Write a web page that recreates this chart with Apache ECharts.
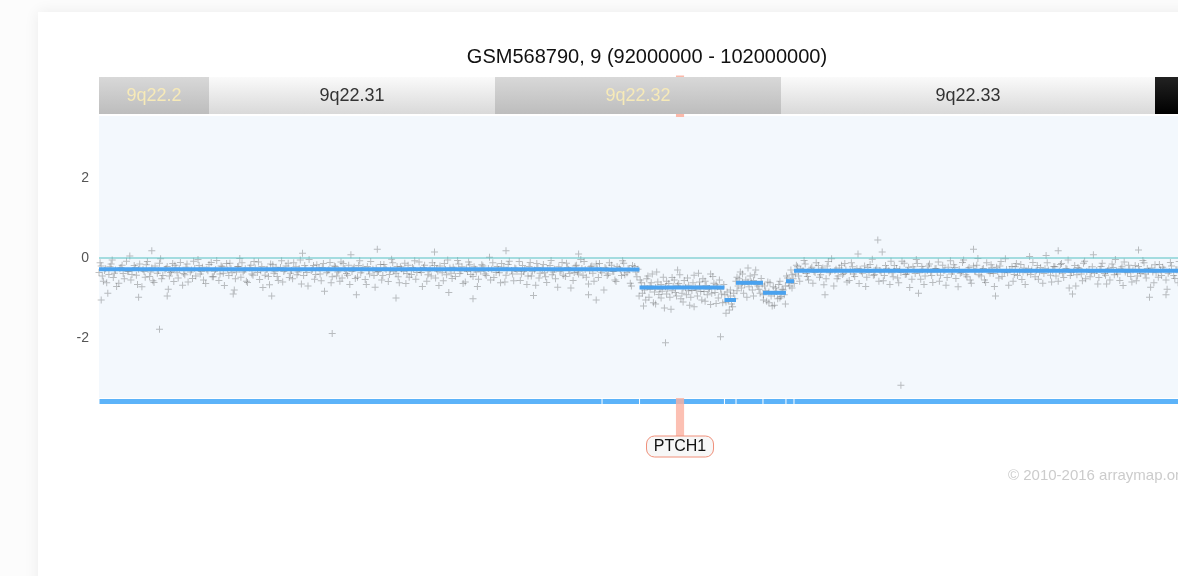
<!DOCTYPE html>
<html><head><meta charset="utf-8">
<script src="https://cdn.jsdelivr.net/npm/echarts@6/dist/echarts.min.js"></script>
<style>html,body{margin:0;padding:0;background:#fcfcfc;overflow:hidden;}#c{width:1200px;height:576px;}</style>
</head><body><div id="c"></div>
<script>
// ---------- data ----------
const titleText = 'GSM568790, 9 (92000000 - 102000000)';
const xMin = 92, xMax = 102;           // Mb
const yMin = -3.5, yMax = 3.55;
const yTickValues = [-2, 0, 2];

const bandNames  = ['9q22.2', '9q22.31', '9q22.32', '9q22.33', '9q31.1'];
const bandStarts = [90.4, 93.0, 95.6, 98.2, 101.6];
const bandEnds   = [93.0, 95.6, 98.2, 101.6, 107.2];
const bandStains = ['gpos', 'gneg', 'gpos', 'gneg', 'gpos100'];

const segStarts = [92.0, 96.573, 96.914, 97.686, 97.791, 98.036, 98.245, 98.318];
const segEnds   = [96.573, 96.914, 97.686, 97.791, 98.036, 98.245, 98.318, 102.0];
const segValues = [-0.28, -0.29, -0.74, -1.05, -0.62, -0.87, -0.58, -0.32];

const geneNames  = ['PTCH1'];
const geneStarts = [97.245];
const geneEnds   = [97.319];

const probesA = [
[92.01,-0.12],[92.03,-0.45],[92.05,-0.31],[92.07,-0.62],[92.10,-0.22],[92.12,-0.05],[92.14,-0.38],[92.16,-0.71],
[92.19,-0.27],[92.21,-0.18],[92.23,-0.52],[92.26,-0.33],[92.28,0.05],[92.30,-0.41],[92.33,-0.24],[92.35,-0.66],
[92.37,-0.15],[92.40,-0.29],[92.42,-0.48],[92.44,-0.09],[92.47,-0.35],[92.49,-0.57],[92.51,-0.20],[92.54,-0.31],
[92.56,-0.02],[92.58,-0.44],[92.61,-0.26],[92.63,-0.78],[92.65,-0.36],[92.67,-0.14],[92.70,-0.25],[92.72,-0.50],
[92.74,-0.11],[92.77,-0.39],[92.79,-0.23],[92.81,-0.60],[92.84,-0.30],[92.86,-0.08],[92.88,-0.45],[92.91,-0.19],
[92.93,-0.34],[92.95,-0.55],[92.98,-0.28],[93.00,-0.16],[93.03,-0.47],[93.05,-0.33],[93.07,-0.06],[93.10,-0.40],
[93.12,-0.22],[93.14,-0.69],[93.17,-0.30],[93.19,-0.13],[93.21,-0.37],[93.24,-0.52],[93.26,-0.21],[93.28,-0.01],
[93.31,-0.35],[93.33,-0.27],[93.35,-0.61],[93.38,-0.18],[93.40,-0.43],[93.42,-0.25],[93.45,-0.10],[93.47,-0.32],
[93.49,-0.74],[93.52,-0.29],[93.54,-0.46],[93.56,-0.15],[93.59,-0.38],[93.61,-0.23],[93.63,-0.56],[93.66,-0.07],
[93.68,-0.34],[93.70,-0.20],[93.73,-0.49],[93.75,-0.31],[93.77,-0.12],[93.80,-0.42],[93.82,-0.26],[93.84,-0.65],
[93.87,-0.19],[93.89,-0.36],[93.91,-0.04],[93.94,-0.28],[93.96,-0.53],[93.98,-0.17],[94.01,-0.40],[94.03,-0.24],
[94.05,-0.83],[94.08,-0.32],[94.10,-0.11],[94.12,-0.47],[94.15,-0.22],[94.17,-0.35],[94.19,-0.58],[94.22,-0.14],
[94.24,-0.30],[94.26,-0.43],[94.29,0.08],[94.31,-0.27],[94.33,-0.51],[94.36,-0.19],[94.38,-0.37],[94.40,-0.23],
[94.43,-0.66],[94.45,-0.31],[94.47,-0.09],[94.50,-0.44],[94.52,-0.25],[94.54,-0.34],[94.57,-0.55],[94.59,-0.16],
[94.61,-0.29],[94.64,-0.41],[94.66,-0.03],[94.68,-0.33],[94.71,-0.21],[94.73,-0.62],[94.75,-0.27],[94.78,-0.13],
[94.80,-0.39],[94.82,-0.48],[94.85,-0.24],[94.87,-0.07],[94.89,-0.36],[94.92,-0.30],[94.94,-0.71],[94.96,-0.18],
[94.99,-0.42],[95.01,-0.26],[95.03,-0.12],[95.06,-0.50],[95.08,-0.33],[95.10,-0.20],[95.13,-0.57],[95.15,-0.29],
[95.17,-0.05],[95.20,-0.38],[95.22,-0.23],[95.24,-0.46],[95.27,-0.15],[95.29,-0.32],[95.31,-0.64],[95.34,-0.27],
[95.36,-0.10],[95.38,-0.41],[95.41,-0.22],[95.43,-0.35],[95.45,-0.53],[95.48,-0.17],[95.50,-0.30],[95.52,-0.44],
[95.55,0.02],[95.57,-0.28],[95.59,-0.49],[95.62,-0.21],[95.64,-0.37],[95.66,-0.14],[95.69,-0.60],[95.71,-0.31],
[95.73,-0.08],[95.76,-0.40],[95.78,-0.25],[95.80,-0.34],[95.83,-0.56],[95.85,-0.19],[95.87,-0.29],[95.90,-0.45],
[95.92,-0.11],[95.94,-0.33],[95.97,-0.68],[95.99,-0.24],[96.01,-0.38],[96.04,-0.16],[96.06,-0.47],[96.08,-0.27],
[96.11,-0.06],[96.13,-0.35],[96.15,-0.52],[96.18,-0.22],[96.20,-0.31],[96.22,-0.43],[96.25,-0.13],[96.27,-0.29],
[96.29,-0.75],[96.32,-0.36],[96.34,-0.18],[96.36,-0.40],[96.39,-0.26],[96.41,-0.09],[96.43,-0.48],[96.46,-0.32],
[96.48,-0.20],[96.50,-0.58],[96.53,-0.27],[96.55,-0.14],[96.57,-0.37],[96.60,-0.24],[96.62,-0.44],[96.64,-0.12],
[96.67,-0.33],[96.69,-0.55],[96.71,-0.21],[96.74,-0.30],[96.76,-0.07],[96.78,-0.42],[96.81,-0.26],[96.83,-0.63],
[96.85,-0.19],[96.88,-0.35],[96.90,-0.28],
[92.02,-1.05],[92.36,-0.98],[93.57,-0.95],[94.70,-1.00],[95.40,-1.02],[96.45,-0.92],[92.48,0.18],[94.53,0.22],[95.05,0.15]
];

const probesA2 = [
[92.00,-0.36],[92.02,-0.20],[92.04,-0.58],[92.06,-0.27],[92.09,-0.41],[92.11,-0.15],[92.13,-0.49],[92.15,-0.30],
[92.18,-0.63],[92.20,-0.24],[92.22,-0.39],[92.25,-0.08],[92.27,-0.33],[92.29,-0.55],[92.32,-0.19],[92.34,-0.43],
[92.36,-0.28],[92.39,-0.72],[92.41,-0.34],[92.43,-0.17],[92.46,-0.46],[92.48,-0.25],[92.50,-0.61],[92.53,-0.38],
[92.55,-0.13],[92.57,-0.52],[92.60,-0.30],[92.62,-0.21],[92.64,-0.45],[92.66,-0.33],[92.68,-0.59],[92.69,-0.18],
[92.71,-0.37],[92.73,-0.27],[92.76,-0.68],[92.78,-0.42],[92.80,-0.15],[92.83,-0.35],[92.85,-0.51],[92.87,-0.26],
[92.90,-0.04],[92.92,-0.40],[92.94,-0.23],[92.97,-0.64],[92.99,-0.32],[93.02,-0.11],[93.04,-0.47],[93.06,-0.29],
[93.09,-0.56],[93.11,-0.20],[93.13,-0.38],[93.16,-0.14],[93.18,-0.44],[93.20,-0.27],[93.23,-0.80],[93.25,-0.35],
[93.27,-0.22],[93.29,-0.48],[93.30,-0.12],[93.32,-0.31],[93.34,-0.58],[93.37,-0.25],[93.39,-0.40],[93.41,-0.09],
[93.44,-0.36],[93.46,-0.54],[93.48,-0.21],[93.51,-0.43],[93.53,-0.28],[93.55,-0.67],[93.58,-0.17],[93.60,-0.33],
[93.62,-0.46],[93.65,-0.24],[93.67,-0.60],[93.69,-0.30],[93.72,-0.13],[93.74,-0.38],[93.76,-0.52],[93.79,-0.22],
[93.81,-0.35],[93.83,-0.05],[93.86,-0.44],[93.88,-0.27],[93.90,-0.70],[93.93,-0.31],[93.95,-0.19],[93.97,-0.41],
[94.00,-0.25],[94.02,-0.57],[94.04,-0.14],[94.07,-0.37],[94.09,-0.29],[94.11,-0.62],[94.14,-0.20],[94.16,-0.45],
[94.18,-0.32],[94.20,-0.10],[94.21,-0.50],[94.23,-0.26],[94.25,-0.39],[94.27,-0.18],[94.28,-0.66],[94.30,-0.34],
[94.32,-0.23],[94.35,-0.48],[94.37,-0.07],[94.39,-0.31],[94.42,-0.54],[94.44,-0.21],[94.46,-0.40],[94.49,-0.28],
[94.51,-0.73],[94.53,-0.35],[94.56,-0.16],[94.58,-0.44],[94.60,-0.25],[94.63,-0.59],[94.65,-0.30],[94.67,-0.12],
[94.70,-0.38],[94.72,-0.47],[94.74,-0.22],[94.77,-0.33],[94.79,-0.64],[94.81,-0.18],[94.84,-0.41],[94.86,-0.27],
[94.88,-0.53],[94.91,-0.10],[94.93,-0.36],[94.95,-0.24],[94.98,-0.58],[95.00,-0.32],[95.02,-0.45],[95.05,-0.19],
[95.07,-0.28],[95.09,-0.69],[95.12,-0.37],[95.14,-0.14],[95.16,-0.42],[95.19,-0.25],[95.21,-0.51],[95.23,-0.30],
[95.26,-0.06],[95.28,-0.39],[95.30,-0.22],[95.33,-0.60],[95.35,-0.34],[95.37,-0.17],[95.40,-0.46],[95.42,-0.28],
[95.44,-0.71],[95.47,-0.33],[95.49,-0.20],[95.51,-0.40],[95.54,-0.26],[95.56,-0.55],[95.58,-0.12],[95.61,-0.36],
[95.63,-0.29],[95.65,-0.62],[95.68,-0.23],[95.70,-0.43],[95.72,-0.16],[95.75,-0.31],[95.77,-0.57],[95.79,-0.27],
[95.82,-0.09],[95.84,-0.40],[95.86,-0.34],[95.89,-0.66],[95.91,-0.21],[95.93,-0.45],[95.96,-0.30],[95.98,-0.14],
[96.00,-0.50],[96.03,-0.26],[96.05,-0.37],[96.07,-0.61],[96.10,-0.19],[96.12,-0.42],[96.14,-0.28],[96.17,-0.73],
[96.19,-0.33],[96.21,-0.11],[96.24,-0.46],[96.26,-0.24],[96.28,-0.39],[96.31,-0.56],[96.33,-0.20],[96.35,-0.35],
[96.38,-0.04],[96.40,-0.43],[96.42,-0.29],[96.45,-0.65],[96.47,-0.22],[96.49,-0.38],[96.52,-0.15],[96.54,-0.49],
[96.56,-0.31],[96.59,-0.80],[96.61,-0.27],[96.63,-0.40],[96.66,-0.18],[96.68,-0.34],[96.70,-0.59],[96.73,-0.25],
[96.75,-0.44],[96.77,-0.13],[96.80,-0.37],[96.82,-0.28],[96.84,-0.70],[96.87,-0.21],[96.89,-0.47],
[92.08,-0.88],[92.62,-0.95],[93.22,-0.90],[94.34,-0.92],[95.18,-0.86],[95.95,-0.94],[96.52,-1.05],[93.85,0.12],[95.70,0.18],[96.36,0.10]
];

const probesB = [
[96.92,-0.55],[96.94,-0.88],[96.96,-0.70],[96.97,-1.05],[96.99,-0.45],[97.01,-0.79],[97.02,-0.62],[97.04,-1.12],
[97.06,-0.74],[97.07,-0.35],[97.09,-0.91],[97.11,-0.66],[97.12,-0.83],[97.14,-1.25],[97.16,-0.58],[97.17,-0.77],
[97.19,-0.98],[97.21,-0.49],[97.22,-0.71],[97.24,-0.86],[97.26,-0.30],[97.27,-0.64],[97.29,-1.02],[97.31,-0.75],
[97.32,-0.56],[97.34,-0.92],[97.36,-0.68],[97.37,-1.18],[97.39,-0.81],[97.41,-0.43],[97.42,-0.73],[97.44,-0.95],
[97.46,-0.60],[97.47,-0.84],[97.49,-0.52],[97.51,-1.08],[97.52,-0.69],[97.54,-0.78],[97.56,-0.40],[97.57,-0.88],
[97.59,-0.63],[97.61,-1.14],[97.62,-0.72],[97.64,-0.55],[97.66,-0.90],[97.68,-0.66],[97.70,-1.10],[97.71,-0.85],
[97.73,-1.30],[97.74,-0.95],[97.76,-1.22],[97.78,-1.02],[97.80,-0.48],[97.81,-0.70],[97.83,-0.35],[97.85,-0.62],
[97.86,-0.88],[97.88,-0.55],[97.90,-0.25],[97.91,-0.72],[97.93,-0.60],[97.95,-0.95],[97.96,-0.42],[97.98,-0.66],
[98.00,-0.78],[98.02,-0.51],[98.04,-0.92],[98.05,-0.70],[98.07,-1.08],[98.09,-0.85],[98.10,-0.62],[98.12,-1.20],
[98.14,-0.90],[98.15,-0.75],[98.17,-1.02],[98.19,-0.58],[98.20,-0.96],[98.22,-0.80],[98.24,-1.15],[98.25,-0.45],
[98.27,-0.62],[98.29,-0.30],[98.30,-0.75],[98.31,-0.52]
];

const probesB2 = [
[96.91,-0.95],[96.93,-0.62],[96.95,-1.20],[96.96,-0.80],[96.98,-0.52],[97.00,-0.98],[97.01,-0.70],[97.03,-0.40],
[97.05,-0.85],[97.06,-1.15],[97.08,-0.60],[97.10,-0.78],[97.11,-1.00],[97.13,-0.48],[97.15,-0.72],[97.16,-0.90],
[97.18,-0.64],[97.20,-1.28],[97.21,-0.82],[97.23,-0.55],[97.25,-0.95],[97.26,-0.68],[97.28,-0.42],[97.30,-0.88],
[97.31,-1.10],[97.33,-0.74],[97.35,-0.50],[97.36,-0.82],[97.38,-0.98],[97.40,-0.62],[97.41,-1.22],[97.43,-0.80],
[97.45,-0.38],[97.46,-0.70],[97.48,-1.05],[97.50,-0.84],[97.51,-0.58],[97.53,-0.92],[97.55,-0.76],[97.56,-1.16],
[97.58,-0.46],[97.60,-0.86],[97.61,-0.67],[97.63,-1.00],[97.65,-0.78],[97.67,-1.12],[97.69,-0.92],[97.70,-1.38],
[97.72,-1.05],[97.74,-0.80],[97.75,-1.15],[97.77,-0.88],[97.79,-0.58],[97.80,-0.82],[97.82,-0.52],[97.84,-0.75],
[97.85,-0.40],[97.87,-0.66],[97.89,-0.98],[97.90,-0.60],[97.92,-0.45],[97.94,-0.80],[97.95,-0.56],[97.97,-0.30],
[97.99,-0.70],[98.01,-0.88],[98.03,-0.65],[98.04,-1.05],[98.06,-0.82],[98.08,-0.60],[98.09,-1.12],[98.11,-0.95],
[98.13,-0.72],[98.14,-1.18],[98.16,-0.84],[98.18,-0.66],[98.19,-1.00],[98.21,-0.78],[98.23,-0.92],[98.24,-0.70],
[98.26,-0.50],[98.28,-0.70],[98.30,-0.42],[98.32,-0.64]
];

const probesC = [
[98.34,-0.18],[98.36,-0.45],[98.38,-0.27],[98.41,-0.06],[98.43,-0.39],[98.45,-0.55],[98.48,-0.23],[98.50,-0.34],
[98.52,-0.12],[98.55,-0.48],[98.57,-0.29],[98.59,-0.67],[98.62,-0.20],[98.64,-0.37],[98.66,-0.02],[98.69,-0.31],
[98.71,-0.52],[98.73,-0.25],[98.76,-0.41],[98.78,-0.14],[98.80,-0.60],[98.83,-0.33],[98.85,-0.22],[98.87,-0.46],
[98.90,0.10],[98.92,-0.28],[98.94,-0.38],[98.97,-0.71],[98.99,-0.24],[99.01,-0.16],[99.04,-0.43],[99.06,-0.30],
[99.08,0.45],[99.11,-0.35],[99.13,-0.57],[99.15,-0.19],[99.18,-0.32],[99.20,-0.08],[99.22,-0.47],[99.25,-0.26],
[99.27,-0.62],[99.29,-0.36],[99.32,-0.13],[99.34,-0.40],[99.36,-0.23],[99.39,-0.53],[99.41,-0.29],[99.43,-0.04],
[99.46,-0.37],[99.48,-0.21],[99.50,-0.66],[99.53,-0.31],[99.55,-0.15],[99.57,-0.44],[99.60,-0.27],[99.62,-0.35],
[99.64,-0.58],[99.67,-0.18],[99.69,-0.30],[99.71,-0.49],[99.74,-0.07],[99.76,-0.34],[99.78,-0.24],[99.81,-0.72],
[99.83,-0.38],[99.85,-0.11],[99.88,-0.42],[99.90,-0.28],[99.92,-0.55],[99.95,-0.20],[99.97,-0.33],[99.99,-0.01],
[100.02,-0.45],[100.04,-0.26],[100.06,-0.61],[100.09,-0.32],[100.11,-0.17],[100.13,-0.39],[100.16,-0.23],[100.18,-0.50],
[100.20,-0.09],[100.23,-0.36],[100.25,-0.29],[100.27,-0.68],[100.30,-0.21],[100.32,-0.41],[100.34,-0.14],[100.37,-0.33],
[100.39,-0.54],[100.41,-0.25],[100.44,-0.37],[100.46,0.04],[100.48,-0.30],[100.51,-0.47],[100.53,-0.19],[100.55,-0.35],
[100.58,-0.63],[100.60,-0.27],[100.62,-0.12],[100.65,-0.43],[100.67,-0.31],[100.69,-0.22],[100.72,-0.58],[100.74,-0.16],
[100.76,-0.38],[100.79,-0.26],[100.81,-0.05],[100.83,-0.44],[100.86,-0.33],[100.88,-0.70],[100.90,-0.24],[100.93,-0.40],
[100.95,-0.13],[100.97,-0.52],[101.00,-0.29],[101.02,-0.36],[101.04,0.08],[101.07,-0.31],[101.09,-0.49],[101.11,-0.21],
[101.14,-0.39],[101.16,-0.65],[101.18,-0.27],[101.21,-0.15],[101.23,-0.42],[101.25,-0.34],[101.28,-0.56],[101.30,-0.22],
[101.32,-0.10],[101.35,-0.37],[101.37,-0.28],[101.39,-0.60],[101.42,-0.19],[101.44,-0.45],[101.46,-0.32],[101.49,-0.06],
[101.51,-0.40],[101.53,-0.26],[101.56,-0.73],[101.58,-0.35],[101.60,-0.17],[101.63,-0.48],[101.65,-0.30],[101.67,-0.23],
[101.70,-0.55],[101.72,-0.38],[101.74,-0.11],[101.77,-0.44],[101.79,-0.29],[101.81,-0.62],[101.84,-0.21],[101.86,-0.36],
[101.88,-0.50],[101.91,-0.14],[101.93,-0.33],[101.95,-0.27],[101.98,-0.41]
];

const probesC2 = [
[98.33,-0.40],[98.35,-0.22],[98.37,-0.58],[98.40,-0.31],[98.42,-0.15],[98.44,-0.46],[98.47,-0.27],[98.49,-0.63],
[98.51,-0.36],[98.54,-0.19],[98.56,-0.42],[98.58,-0.25],[98.61,-0.52],[98.63,-0.09],[98.65,-0.34],[98.68,-0.70],
[98.70,-0.28],[98.72,-0.45],[98.75,-0.18],[98.77,-0.38],[98.79,-0.30],[98.82,-0.56],[98.84,-0.12],[98.86,-0.40],
[98.89,-0.26],[98.91,-0.64],[98.93,-0.33],[98.96,-0.20],[98.98,-0.48],[99.00,-0.36],[99.03,-0.03],[99.05,-0.42],
[99.07,-0.25],[99.09,-0.58],[99.10,-0.31],[99.12,0.15],[99.14,-0.44],[99.16,-0.27],[99.19,-0.66],[99.21,-0.37],
[99.23,-0.19],[99.26,-0.50],[99.28,-0.29],[99.30,-0.08],[99.33,-0.41],[99.35,-0.32],[99.37,-0.74],[99.40,-0.22],
[99.42,-0.39],[99.44,-0.14],[99.47,-0.53],[99.49,-0.28],[99.51,-0.45],[99.54,-0.20],[99.56,-0.35],[99.58,-0.61],
[99.61,-0.26],[99.63,-0.10],[99.65,-0.43],[99.68,-0.31],[99.70,-0.68],[99.72,-0.23],[99.75,-0.40],[99.77,-0.17],
[99.79,-0.51],[99.82,-0.29],[99.84,-0.36],[99.86,-0.05],[99.89,-0.47],[99.91,-0.24],[99.93,-0.63],[99.96,-0.33],
[99.98,-0.18],[100.00,-0.42],[100.03,-0.28],[100.05,-0.55],[100.07,-0.12],[100.10,-0.38],[100.12,-0.25],[100.14,-0.71],
[100.17,-0.34],[100.19,-0.20],[100.21,-0.46],[100.24,-0.02],[100.26,-0.37],[100.28,-0.29],[100.31,-0.58],[100.33,-0.22],
[100.35,-0.44],[100.38,-0.16],[100.40,-0.35],[100.42,-0.66],[100.45,-0.27],[100.47,-0.41],[100.49,-0.11],[100.52,-0.32],
[100.54,-0.53],[100.56,-0.24],[100.59,-0.39],[100.61,0.06],[100.63,-0.30],[100.66,-0.60],[100.68,-0.21],[100.70,-0.45],
[100.73,-0.33],[100.75,-0.14],[100.77,-0.49],[100.80,-0.28],[100.82,-0.75],[100.84,-0.36],[100.87,-0.19],[100.89,-0.42],
[100.91,-0.26],[100.94,-0.57],[100.96,-0.08],[100.98,-0.34],[101.01,-0.47],[101.03,-0.22],[101.05,-0.38],[101.08,-0.65],
[101.10,-0.29],[101.12,-0.13],[101.15,-0.43],[101.17,-0.31],[101.19,-0.55],[101.22,-0.24],[101.24,-0.04],[101.26,-0.40],
[101.29,-0.27],[101.31,-0.69],[101.33,-0.35],[101.36,-0.18],[101.38,-0.46],[101.40,-0.30],[101.43,-0.57],[101.45,-0.21],
[101.47,-0.39],[101.50,-0.12],[101.52,-0.50],[101.54,-0.33],[101.57,-0.25],[101.59,-0.62],[101.61,-0.37],[101.64,-0.16],
[101.66,-0.44],[101.68,-0.28],[101.71,-0.78],[101.73,-0.34],[101.75,-0.20],[101.78,-0.51],[101.80,-0.30],[101.82,-0.09],
[101.85,-0.42],[101.87,-0.26],[101.89,-0.66],[101.92,-0.35],[101.94,-0.18],[101.97,-0.47],[101.99,-0.29],
[98.60,-0.92],[99.45,-0.88],[100.15,-0.95],[100.85,-0.90],[101.55,-0.98],[101.70,-0.92],[99.95,0.22],[100.72,0.18],[101.45,0.20]
];

const probesOutliers = [[92.55,-1.78],[94.12,-1.89],[97.15,-2.12],[97.65,-1.97],[99.29,-3.18]];

// ---------- chart ----------
const FONT = '"Liberation Sans", Arial, Helvetica, sans-serif';
const chart = echarts.init(document.getElementById('c'), null, {renderer: 'canvas'});

const segData = segStarts.map((s, i) => [s, segEnds[i], segValues[i]]);
const bandData = bandNames.map((n, i) => [bandStarts[i], bandEnds[i], i]);
const geneData = geneNames.map((n, i) => [geneStarts[i], geneEnds[i], i]);
const probes = probesA.concat(probesA2, probesB, probesB2, probesC, probesC2, probesOutliers);

function bandFill(stain) {
  if (stain === 'gneg') return new echarts.graphic.LinearGradient(0, 0, 0, 1, [{offset: 0, color: '#fafafa'}, {offset: 1, color: '#d9d9d9'}]);
  if (stain === 'gpos100') return new echarts.graphic.LinearGradient(0, 0, 0, 1, [{offset: 0, color: '#222222'}, {offset: 1, color: '#000000'}]);
  return new echarts.graphic.LinearGradient(0, 0, 0, 1, [{offset: 0, color: '#d8d8d8'}, {offset: 1, color: '#bdbdbd'}]);
}

const option = {
  animation: false,
  backgroundColor: 'transparent',
  title: {
    text: titleText, left: 642, top: 42, textAlign: 'center',
    textStyle: {fontFamily: FONT, fontSize: 20, fontWeight: 'normal', color: '#111'}
  },
  graphic: [
    {type: 'rect', z: -10, shape: {x: 38, y: 12, width: 1200, height: 620},
     style: {fill: '#ffffff', shadowColor: 'rgba(0,0,0,0.07)', shadowBlur: 14}},
    {type: 'text', left: 1008, top: 468, z: 5,
     style: {text: '\u00a9 2010-2016 arraymap.org', font: '15px ' + FONT, fill: '#cccccc'}}
  ],
  grid: [
    {left: 99, top: 116, width: 1100, height: 282, show: true, backgroundColor: '#f3f8fd', borderWidth: 0},
    {left: 99, top: 77, width: 1100, height: 37}
  ],
  xAxis: [
    {type: 'value', gridIndex: 0, min: xMin, max: xMax, show: false},
    {type: 'value', gridIndex: 1, min: xMin, max: xMax, show: false}
  ],
  yAxis: [
    {type: 'value', gridIndex: 0, min: yMin, max: yMax,
     axisLine: {show: false}, axisTick: {show: false}, splitLine: {show: false},
     axisLabel: {customValues: yTickValues, color: '#555', fontSize: 14, fontFamily: FONT, margin: 10}},
    {type: 'value', gridIndex: 1, min: 0, max: 1, show: false}
  ],
  series: [
    {type: 'custom', xAxisIndex: 1, yAxisIndex: 1, z: 1, silent: true, data: geneData,
     encode: {x: [0, 1]},
     renderItem: function (params, api) {
       const a = api.coord([api.value(0), 1]);
       const b = api.coord([api.value(1), 0]);
       return {type: 'rect', shape: {x: a[0], y: a[1] - 1.5, width: b[0] - a[0], height: b[1] - a[1] + 4.5},
               style: {fill: '#fbb9aa'}};
     }},
    {type: 'custom', xAxisIndex: 1, yAxisIndex: 1, z: 3, silent: true, data: bandData,
     encode: {x: [0, 1]},
     renderItem: function (params, api) {
       const i = api.value(2);
       const s = Math.max(api.value(0), xMin), e = Math.min(api.value(1), xMax);
       const a = api.coord([s, 1]);
       const b = api.coord([e, 0]);
       const w = b[0] - a[0];
       const stain = bandStains[i];
       const children = [{type: 'rect', shape: {x: a[0], y: a[1], width: w, height: b[1] - a[1]},
                          style: {fill: bandFill(stain)}}];
       if (w > 60) {
         children.push({type: 'text', style: {text: bandNames[i], x: a[0] + w / 2, y: (a[1] + b[1]) / 2 + 1,
           align: 'center', verticalAlign: 'middle', font: '18px ' + FONT,
           fill: stain === 'gneg' ? '#333333' : '#f7eab8'}});
       }
       return {type: 'group', children: children};
     }},
    {type: 'scatter', xAxisIndex: 0, yAxisIndex: 0, z: 2, silent: true, data: probes,
     symbol: 'path://M0,3H7V4H0Z M3,0H4V3H3Z M3,4H4V7H3Z', symbolSize: 7,
     itemStyle: {color: 'rgba(20,20,20,0.33)'}},
    {type: 'line', xAxisIndex: 0, yAxisIndex: 0, z: 3, silent: true, symbol: 'none',
     data: [[xMin, 0], [xMax, 0]], lineStyle: {color: '#55c0c2', width: 1}},
    {type: 'custom', xAxisIndex: 0, yAxisIndex: 0, z: 4, silent: true, data: segData,
     encode: {x: [0, 1], y: 2},
     renderItem: function (params, api) {
       const a = api.coord([api.value(0), api.value(2)]);
       const b = api.coord([api.value(1), api.value(2)]);
       return {type: 'rect', shape: {x: a[0], y: a[1] - 2, width: b[0] - a[0], height: 4},
               style: {fill: '#4aa2ef'}};
     }},
    {type: 'custom', xAxisIndex: 0, yAxisIndex: 0, z: 4, silent: true, data: segData,
     encode: {x: [0, 1]},
     renderItem: function (params, api) {
       const a = api.coord([api.value(0), yMin]);
       const b = api.coord([api.value(1), yMin]);
       return {type: 'rect', shape: {x: a[0] + 0.5, y: a[1] + 1, width: b[0] - a[0] - 1, height: 5},
               style: {fill: '#5cb3f9'}};
     }},
    {type: 'custom', xAxisIndex: 0, yAxisIndex: 0, z: 5, silent: true, data: geneData,
     encode: {x: [0, 1]},
     renderItem: function (params, api) {
       const i = api.value(2);
       const a = api.coord([api.value(0), yMin]);
       const b = api.coord([api.value(1), yMin]);
       const cx = (a[0] + b[0]) / 2;
       return {type: 'group', children: [
         {type: 'rect', shape: {x: a[0], y: a[1], width: b[0] - a[0], height: 38},
          style: {fill: 'rgba(251,176,160,0.8)'}},
         {type: 'rect', shape: {x: cx - 33.5, y: a[1] + 38, width: 67, height: 21, r: 8},
          style: {fill: '#f7f7f7', stroke: '#f0907a', lineWidth: 1}},
         {type: 'text', style: {text: geneNames[i], x: cx, y: a[1] + 49, align: 'center', verticalAlign: 'middle',
          font: '16px ' + FONT, fill: '#111'}}
       ]};
     }}
  ]
};
chart.setOption(option);
</script>
</body></html>
